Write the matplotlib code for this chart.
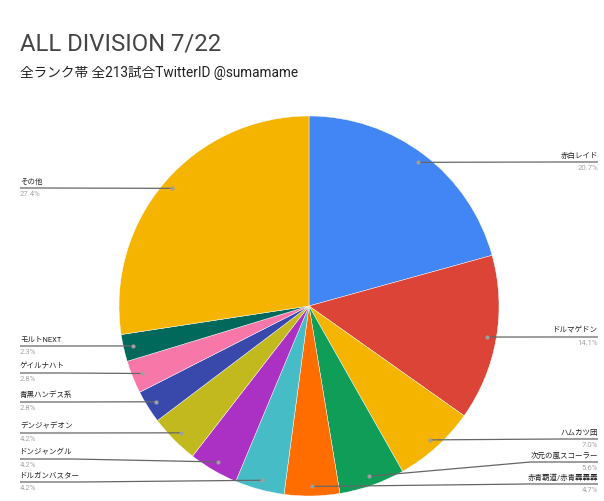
import matplotlib
matplotlib.use("Agg")
import matplotlib.pyplot as plt
import numpy as np

plt.rcParams['font.family'] = ['Roboto', 'Noto Sans CJK JP', 'DejaVu Sans']

title = "ALL DIVISION 7/22"
subtitle = "全ランク帯 全213試合TwitterID @sumamame"

categories = ["赤白レイド", "ドルマゲドン", "ハムカツ団", "次元の嵐スコーラー",
              "赤青覇道/赤青轟轟轟", "ドルガンバスター", "ドンジャングル",
              "デンジャデオン", "青黒ハンデス系", "ゲイルナハト", "モルトNEXT", "その他"]
shares = [20.7, 14.1, 7.0, 5.6, 4.7, 4.2, 4.2, 4.2, 2.8, 2.8, 2.3, 27.4]
colors = ["#4285f4", "#db4437", "#f4b400", "#0f9d58", "#ff6d00", "#46bdc6",
          "#ab30c4", "#c2b91f", "#3949ab", "#f777a9", "#00695c", "#f4b400"]

# label layout: side and pixel y of the leader line
label_side = ["R", "R", "R", "R", "R", "L", "L", "L", "L", "L", "L", "L"]
label_line_y = [162, 337, 439, 462, 484, 482, 459, 433, 402, 373, 346, 188]

W, H = 604, 501
CX, CY, R = 309, 306, 190

fig = plt.figure(figsize=(W / 100, H / 100), dpi=100)
ax = fig.add_axes([(CX - R) / W, (H - CY - R) / H, 2 * R / W, 2 * R / H])

wedges, _ = ax.pie(shares, colors=colors, startangle=90, counterclock=False,
                   radius=1, wedgeprops=dict(edgecolor='white', linewidth=0.3))
ax.set_xlim(-1, 1)
ax.set_ylim(-1, 1)
ax.set_aspect('equal')
ax.set_axis_off()

fig.text(20 / W, 1 - 50 / H, title, fontsize=17.2, color='#444444', va='baseline', ha='left')
fig.text(20 / W, 1 - 77 / H, subtitle, fontsize=9.8, color='#222222', va='baseline', ha='left')


def px2d(px, py):
    return (px - CX) / R, (CY - py) / R


renderer = fig.canvas.get_renderer()
for w, name, s, side, ly in zip(wedges, categories, shares, label_side, label_line_y):
    ang = np.deg2rad((w.theta1 + w.theta2) / 2)
    pxd, pyd = 0.95 * np.cos(ang), 0.95 * np.sin(ang)
    if side == "R":
        ax_x, ha = 598, 'right'
    else:
        ax_x, ha = 20, 'left'
    tx, ty = px2d(ax_x, ly - 2.5)
    t = ax.text(tx, ty, name, fontsize=5.4, color='#222222', ha=ha, va='bottom')
    px_, py_ = px2d(ax_x, ly + 3)
    ax.text(px_, py_, f"{s:.1f}%", fontsize=5.6, color='#a6a6a6', ha=ha, va='top')
    bb = t.get_window_extent(renderer)
    tw = bb.width
    ex = ax_x - tw if side == "R" else ax_x + tw
    x0, y0 = px2d(ax_x, ly)
    x1, y1 = px2d(ex, ly)
    ax.plot([x0, x1, pxd], [y0, y1, pyd], color='#666666', lw=0.9, clip_on=False,
            solid_capstyle='butt')
    ax.plot([pxd], [pyd], marker='o', ms=3, color='#9e9e9e', mec='none', clip_on=False)

fig.savefig("out.png", dpi=100, facecolor='white')
